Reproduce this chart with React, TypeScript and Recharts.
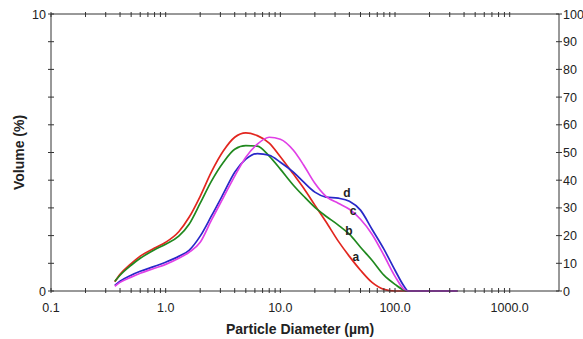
import React from "react";
import { LineChart, Line, XAxis, YAxis, ReferenceDot, Label } from "recharts";

// Particle diameters (µm)
const diameters = [0.36, 0.4, 0.5, 0.6, 0.8, 1.0, 1.3, 1.6, 2.0, 2.5, 3.2, 4, 5, 6.3, 8, 10, 13, 16, 20, 25, 32, 40, 50, 63, 80, 100, 120, 130, 200, 300, 350];
// Volume (%) per sample
const seriesA = [0.33, 0.6, 0.99, 1.26, 1.55, 1.76, 2.14, 2.66, 3.42, 4.29, 5.07, 5.55, 5.71, 5.61, 5.34, 4.85, 4.22, 3.71, 3.10, 2.50, 1.80, 1.25, 0.75, 0.31, 0.06, 0, 0, 0, 0, 0, 0];
const seriesB = [0.35, 0.57, 0.93, 1.18, 1.49, 1.69, 1.98, 2.41, 3.17, 3.96, 4.66, 5.12, 5.25, 5.23, 4.87, 4.40, 3.82, 3.42, 3.02, 2.70, 2.38, 2.05, 1.58, 1.11, 0.57, 0.24, 0.03, 0, 0, 0, 0];
const seriesC = [0.17, 0.31, 0.5, 0.64, 0.82, 0.96, 1.18, 1.40, 1.76, 2.55, 3.39, 4.15, 4.83, 5.30, 5.55, 5.48, 5.08, 4.54, 3.89, 3.42, 3.17, 2.95, 2.59, 2.05, 1.29, 0.53, 0.06, 0, 0, 0, 0];
const seriesD = [0.2, 0.35, 0.57, 0.71, 0.89, 1.04, 1.25, 1.47, 1.98, 2.70, 3.53, 4.29, 4.76, 4.96, 4.90, 4.65, 4.29, 3.93, 3.57, 3.39, 3.35, 3.24, 2.92, 2.23, 1.51, 0.75, 0.17, 0, 0, 0, 0];

// Axis ticks
const majorDecades = [0.1, 1, 10, 100, 1000];
const majorLabels = ["0.1", "1.0", "10.0", "100.0", "1000.0"];
const minorMultipliers = [2, 3, 4, 5, 6, 7, 8, 9];
const leftTicks = [0, 1, 2, 3, 4, 5, 6, 7, 8, 9, 10];
const leftLabeled = [0, 10];
const rightTicks = [0, 10, 20, 30, 40, 50, 60, 70, 80, 90, 100];

// Curve labels: [name, diameter, volume]
const curveLabels: [string, number, number][] = [
  ["d", 38.1, 3.53],
  ["c", 43.0, 2.88],
  ["b", 39.6, 2.19],
  ["a", 45.6, 1.22],
];

const data = diameters.map((d, i) => ({
  lx: Math.log10(d),
  a: seriesA[i],
  b: seriesB[i],
  c: seriesC[i],
  d: seriesD[i],
}));

const xTicks: number[] = [];
majorDecades.forEach((dec, i) => {
  xTicks.push(Math.log10(dec));
  if (i < majorDecades.length - 1) minorMultipliers.forEach((m) => xTicks.push(Math.log10(dec * m)));
});

const FONT = "'Liberation Sans', Arial, Helvetica, sans-serif";
const AXIS = "#333";
const TXT = "#222";

const majorLabelFor = (v: number) => {
  const idx = majorDecades.findIndex((d) => Math.abs(Math.log10(d) - v) < 1e-6);
  return idx >= 0 ? majorLabels[idx] : null;
};

const BottomTick = (props: any) => {
  const { x, y, payload } = props;
  const lab = majorLabelFor(payload.value);
  return (
    <g>
      <line x1={x} x2={x} y1={y - 3} y2={y + 2} stroke={AXIS} strokeWidth={1} />
      {lab && (
        <text x={x} y={y + 21} textAnchor="middle" fontSize={12.5} fill={TXT} fontFamily={FONT}>
          {lab}
        </text>
      )}
    </g>
  );
};

const TopTick = (props: any) => {
  const { x, y } = props;
  return <line x1={x} x2={x} y1={y - 2} y2={y + 3} stroke={AXIS} strokeWidth={1} />;
};

const LeftTick = (props: any) => {
  const { x, y, payload } = props;
  const show = leftLabeled.includes(payload.value);
  return (
    <g>
      <line x1={x - 3} x2={x + 3} y1={y} y2={y} stroke={AXIS} strokeWidth={1} />
      {show && (
        <text x={x - 5} y={y + 4.5} textAnchor="end" fontSize={12.5} fill={TXT} fontFamily={FONT}>
          {payload.value}
        </text>
      )}
    </g>
  );
};

const RightTick = (props: any) => {
  const { x, y, payload } = props;
  return (
    <g>
      <line x1={x - 3} x2={x + 3} y1={y} y2={y} stroke={AXIS} strokeWidth={1} />
      <text x={x + 4} y={y + 4.5} textAnchor="start" fontSize={12.5} fill={TXT} fontFamily={FONT}>
        {payload.value}
      </text>
    </g>
  );
};

export default function App() {
  return (
    <div style={{ position: "absolute", left: 0, top: 0, width: 583, height: 339, background: "#fff" }}>
      <LineChart
        width={583}
        height={339}
        data={data}
        margin={{ top: 13, right: 23, left: 50, bottom: 47 }}
        style={{ fontFamily: FONT }}
      >
        <XAxis
          xAxisId="bottom"
          dataKey="lx"
          type="number"
          domain={[-1, 3.43]}
          allowDataOverflow
          ticks={xTicks}
          interval={0}
          height={1}
          tickSize={0}
          tickMargin={0}
          tickLine={false}
          axisLine={{ stroke: AXIS, strokeWidth: 1 }}
          tick={BottomTick}
        >
          <Label
            value="Particle Diameter (µm)"
            position="bottom"
            offset={32}
            dx={-5}
            style={{ fontSize: 14, fontWeight: "bold", fill: TXT, fontFamily: FONT }}
          />
        </XAxis>
        <XAxis
          xAxisId="top"
          orientation="top"
          dataKey="lx"
          type="number"
          domain={[-1, 3.43]}
          allowDataOverflow
          ticks={xTicks}
          interval={0}
          height={1}
          tickSize={0}
          tickMargin={0}
          tickLine={false}
          axisLine={{ stroke: AXIS, strokeWidth: 1 }}
          tick={TopTick}
        />
        <YAxis
          yAxisId="left"
          type="number"
          domain={[0, 10]}
          ticks={leftTicks}
          interval={0}
          width={1}
          tickSize={0}
          tickMargin={0}
          tickLine={false}
          axisLine={{ stroke: AXIS, strokeWidth: 1 }}
          tick={LeftTick}
        >
          <Label
            value="Volume (%)"
            angle={-90}
            position="left"
            offset={31}
            style={{ fontSize: 14, fontWeight: "bold", fill: TXT, fontFamily: FONT, textAnchor: "middle" }}
          />
        </YAxis>
        <YAxis
          yAxisId="right"
          orientation="right"
          dataKey="a"
          type="number"
          domain={[0, 100]}
          allowDataOverflow
          ticks={rightTicks}
          interval={0}
          width={1}
          tickSize={0}
          tickMargin={0}
          tickLine={false}
          axisLine={{ stroke: AXIS, strokeWidth: 1 }}
          tick={RightTick}
        />
        <Line xAxisId="bottom" yAxisId="left" type="monotone" dataKey="a" stroke="#e2261f" strokeWidth={1.7} dot={false} isAnimationActive={false} />
        <Line xAxisId="bottom" yAxisId="left" type="monotone" dataKey="b" stroke="#20891f" strokeWidth={1.7} dot={false} isAnimationActive={false} />
        <Line xAxisId="bottom" yAxisId="left" type="monotone" dataKey="d" stroke="#2828c8" strokeWidth={1.7} dot={false} isAnimationActive={false} />
        <Line xAxisId="bottom" yAxisId="left" type="monotone" dataKey="c" stroke="#e040e6" strokeWidth={1.7} dot={false} isAnimationActive={false} />
        {curveLabels.map(([name, d, v]) => (
          <ReferenceDot
            key={name}
            xAxisId="bottom"
            yAxisId="left"
            x={Math.log10(d)}
            y={v}
            r={0}
            fill="none"
            stroke="none"
            label={{ value: name, position: "center", fontSize: 12, fontWeight: "bold", fill: TXT, fontFamily: FONT }}
          />
        ))}
      </LineChart>
    </div>
  );
}
